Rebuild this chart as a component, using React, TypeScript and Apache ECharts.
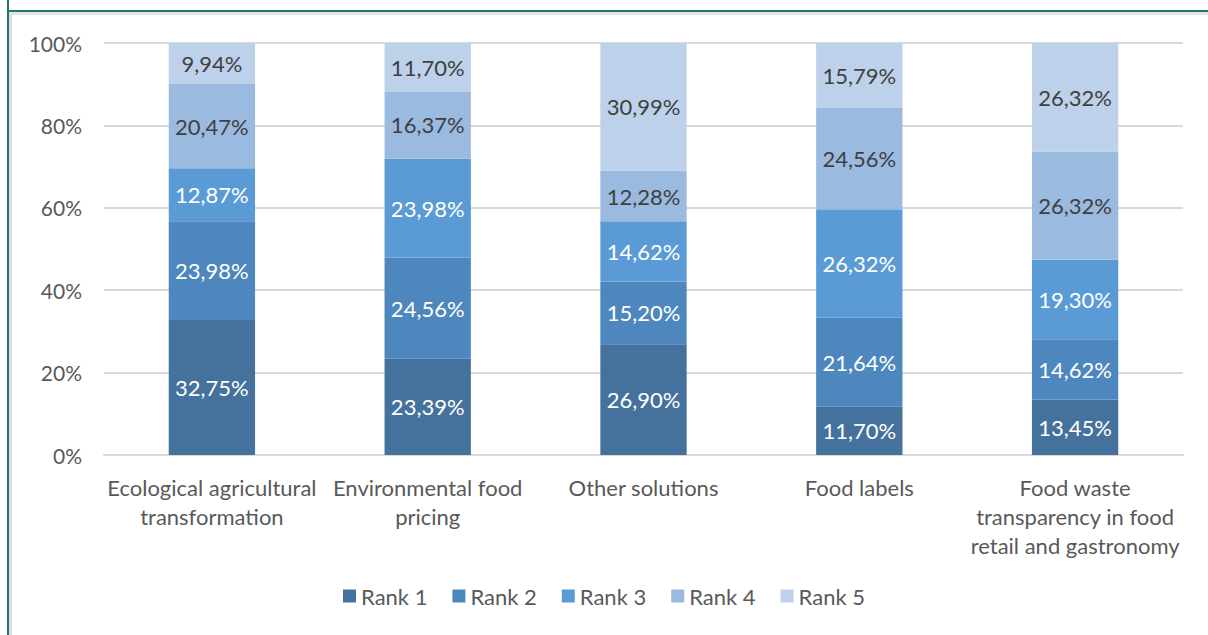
import React, { useEffect, useRef } from "react";
import * as echarts from "echarts";

const categories = [
  "Ecological agricultural\ntransformation",
  "Environmental food\npricing",
  "Other solutions",
  "Food labels",
  "Food waste\ntransparency in food\nretail and gastronomy",
];
const seriesNames = ["Rank 1", "Rank 2", "Rank 3", "Rank 4", "Rank 5"];
const rank1 = [32.75, 23.39, 26.9, 11.7, 13.45];
const rank2 = [23.98, 24.56, 15.2, 21.64, 14.62];
const rank3 = [12.87, 23.98, 14.62, 26.32, 19.3];
const rank4 = [20.47, 16.37, 12.28, 24.56, 26.32];
const rank5 = [9.94, 11.7, 30.99, 15.79, 26.32];
const yTicks = [0, 20, 40, 60, 80, 100];

const colors = ["#44729d", "#4d87bd", "#5b9bd5", "#9bbae0", "#bed1ea"];
const labelColors = ["#ffffff", "#ffffff", "#ffffff", "#404040", "#404040"];
const FONT = "Lato";

export default function App() {
  const ref = useRef<HTMLDivElement>(null);
  useEffect(() => {
    if (!ref.current) return;
    const chart = echarts.init(ref.current, undefined, { renderer: "svg" });
    const data = [rank1, rank2, rank3, rank4, rank5];
    chart.setOption({
      animation: false,
      textStyle: { fontFamily: FONT },
      graphic: [
        { type: "line", shape: { x1: 8, y1: 0, x2: 8, y2: 635 }, style: { stroke: "#1f7a72", lineWidth: 2 } },
        { type: "line", shape: { x1: 10.5, y1: 12, x2: 10.5, y2: 635 }, style: { stroke: "#dcdcdc", lineWidth: 3 } },
        { type: "line", shape: { x1: 7, y1: 11, x2: 1208, y2: 11 }, style: { stroke: "#1f7a72", lineWidth: 2 } },
        { type: "line", shape: { x1: 9, y1: 13.5, x2: 1208, y2: 13.5 }, style: { stroke: "#e4e4e4", lineWidth: 3 } },
      ],
      grid: { left: 104, right: 25, top: 43, bottom: 180 },
      legend: {
        data: seriesNames,
        bottom: 23,
        left: "center",
        icon: "rect",
        itemWidth: 13,
        itemHeight: 13,
        itemGap: 25,
        textStyle: { fontSize: 22, color: "#595959", fontFamily: FONT },
      },
      xAxis: {
        type: "category",
        data: categories,
        axisTick: { show: false },
        axisLine: { lineStyle: { color: "#d9d9d9", width: 2 } },
        axisLabel: {
          color: "#595959",
          fontSize: 22,
          lineHeight: 29,
          margin: 18,
          interval: 0,
          fontFamily: FONT,
        },
      },
      yAxis: {
        type: "value",
        min: 0,
        max: 100,
        interval: 20,
        axisLine: { show: false },
        axisTick: { show: false },
        splitLine: { lineStyle: { color: "#d9d9d9", width: 2 } },
        axisLabel: {
          color: "#595959",
          fontSize: 21,
          margin: 22,
          fontFamily: FONT,
          formatter: (v: number) => (yTicks.includes(v) ? v + "%" : ""),
        },
      },
      series: seriesNames.map((name, i) => ({
        name,
        type: "bar",
        stack: "total",
        barWidth: "40%",
        data: data[i],
        itemStyle: { color: colors[i] },
        label: {
          show: true,
          position: "inside",
          color: labelColors[i],
          fontSize: 22,
          fontFamily: FONT,
          formatter: (p: any) => p.value.toFixed(2).replace(".", ",") + "%",
        },
      })),
    });
    return () => chart.dispose();
  }, []);
  return (
    <div
      ref={ref}
      style={{ position: "fixed", left: 0, top: 0, width: 1208, height: 635, background: "#fff" }}
    />
  );
}
